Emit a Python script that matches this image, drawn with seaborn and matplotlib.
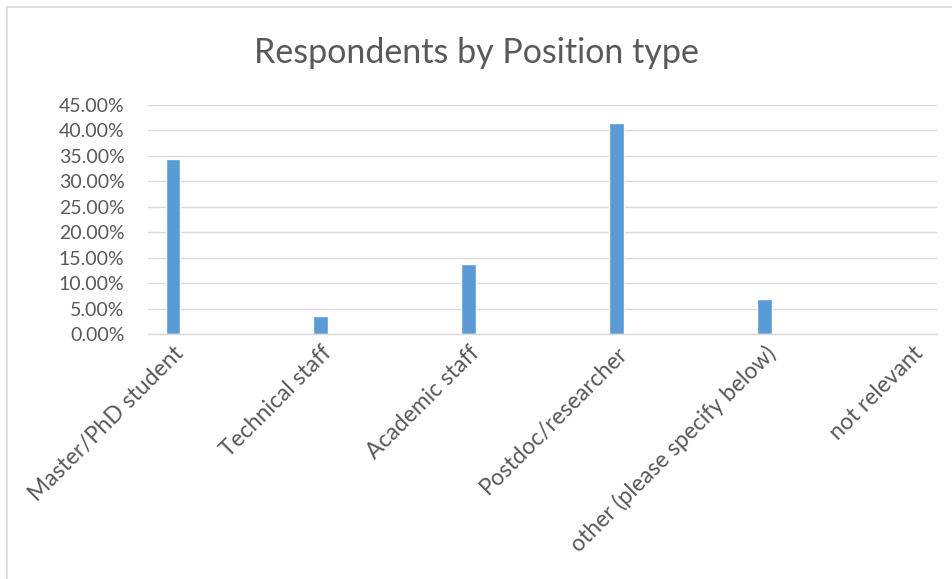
import matplotlib
matplotlib.use("Agg")
import matplotlib.pyplot as plt
import matplotlib.ticker as mticker
from matplotlib.lines import Line2D
import pandas as pd
import seaborn as sns

# datos (29 respuestas)
positions = ["Master/PhD student", "Technical staff", "Academic staff",
             "Postdoc/researcher", "other (please specify below)", "not relevant"]
shares = [0.3448, 0.0345, 0.1379, 0.4138, 0.0690, 0.0]
y_ticks = [0.00, 0.05, 0.10, 0.15, 0.20, 0.25, 0.30, 0.35, 0.40, 0.45]

df = pd.DataFrame({"position": positions, "share": shares})

sns.set_style("white")
plt.rcParams["font.family"] = ["Lato", "DejaVu Sans"]

W, H = 953, 579
fig = plt.figure(figsize=(W / 100, H / 100), dpi=100)
ax = fig.add_axes([148 / W, 1 - 334 / H, (937 - 148) / W, (334 - 105) / H])

sns.barplot(data=df, x="position", y="share", color="#5b9bd5",
            saturation=1, width=0.1, ax=ax)

ax.set_ylim(0, 0.45)
ax.set_xlim(-25 / 148, 5 + 25 / 148)
ax.set_yticks(y_ticks)
ax.yaxis.set_major_formatter(mticker.FuncFormatter(lambda v, p: f"{v * 100:.2f}%"))
ax.grid(axis="y", color="#d9d9d9", linewidth=1)
ax.set_axisbelow(True)
for s in ["top", "right", "left"]:
    ax.spines[s].set_visible(False)
ax.spines["bottom"].set_color("#d9d9d9")
ax.spines["bottom"].set_linewidth(1)
ax.tick_params(axis="both", length=0, colors="#595959", labelsize=14)
ax.tick_params(axis="y", pad=17)
ax.tick_params(axis="x", pad=6)
ax.set_xlabel("")
ax.set_ylabel("")
for lab in ax.get_xticklabels():
    lab.set_rotation(45)
    lab.set_ha("right")
    lab.set_rotation_mode("anchor")
    lab.set_fontsize(16.5)

fig.text(0.5, 1 - 53 / H, "Respondents by Position type", ha="center", va="center",
         fontsize=24.5, color="#595959")

# borde del area del grafico
fig.add_artist(Line2D([6.5 / W, 6.5 / W], [0, 1 - 7 / H], color="#d9d9d9", linewidth=1.2))
fig.add_artist(Line2D([6.5 / W, 1], [1 - 7 / H, 1 - 7 / H], color="#d9d9d9", linewidth=1.2))

fig.savefig("out.png", dpi=100)
